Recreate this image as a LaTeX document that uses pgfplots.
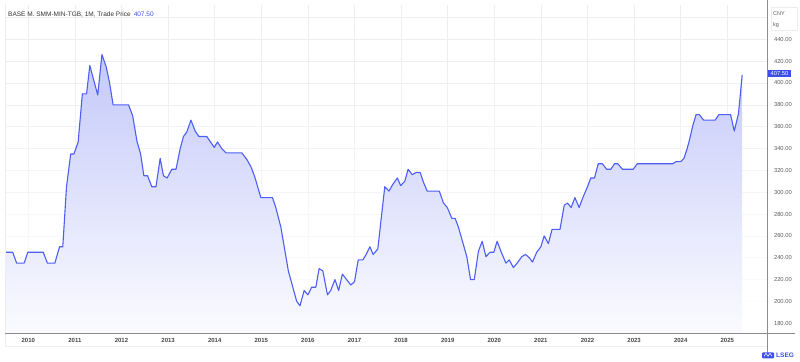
\documentclass[border=0pt]{standalone}
\usepackage{fontspec}
\setmainfont{Liberation Sans}
\usepackage{pgfplots}
\pgfplotsset{compat=1.18}
\usepgfplotslibrary{fillbetween}
\usetikzlibrary{fadings}
\definecolor{lineblue}{RGB}{77,94,245}
\definecolor{boxblue}{RGB}{61,79,240}
\definecolor{gridc}{RGB}{238,238,242}
\definecolor{axc}{RGB}{140,140,140}
\definecolor{tickc}{RGB}{70,70,70}
\definecolor{ylab}{RGB}{90,90,90}
\definecolor{filltop}{RGB}{196,201,250}
\tikzfading[name=myfade, top color=transparent!100, bottom color=transparent!6]
\pgfplotstableread{
t v
2009.50 245
2009.665 245
2009.75 235
2009.91 235
2009.99 245
2010.32 245
2010.41 235
2010.57 235
2010.67 250
2010.74 250
2010.82 305
2010.91 335
2010.98 335
2011.07 346
2011.16 390
2011.25 390
2011.32 416
2011.49 389
2011.58 426
2011.67 415
2011.74 401
2011.82 380
2012.15 380
2012.24 370
2012.33 347
2012.41 335
2012.48 315
2012.56 315
2012.65 305
2012.74 305
2012.83 331
2012.90 315
2012.98 313
2013.08 321
2013.17 321
2013.26 340
2013.33 351
2013.40 355
2013.49 366
2013.58 356
2013.66 351
2013.83 351
2013.99 341
2014.06 346
2014.15 340
2014.24 336
2014.58 336
2014.69 330
2014.78 323
2014.86 314
2014.99 295
2015.24 295
2015.31 286
2015.42 268
2015.58 228
2015.76 200
2015.83 196
2015.92 210
2016.00 206
2016.08 213
2016.17 213
2016.24 230
2016.32 228
2016.42 206
2016.49 210
2016.58 220
2016.66 210
2016.74 225
2016.83 220
2016.92 215
2017.00 218
2017.08 238
2017.18 238
2017.25 243
2017.33 250
2017.40 243
2017.50 248
2017.65 305
2017.74 301
2017.82 307
2017.92 313
2017.99 306
2018.08 310
2018.15 321
2018.24 316
2018.32 318
2018.41 318
2018.48 309
2018.56 301
2018.82 301
2018.91 290
2018.99 286
2019.09 276
2019.16 276
2019.23 268
2019.41 241
2019.49 220
2019.57 220
2019.66 246
2019.74 255
2019.82 241
2019.91 245
2019.99 245
2020.06 255
2020.16 244
2020.25 235
2020.32 238
2020.41 231
2020.49 235
2020.59 241
2020.67 243
2020.75 240
2020.82 236
2020.91 245
2021.00 250
2021.07 260
2021.16 253
2021.24 266
2021.41 266
2021.50 288
2021.57 290
2021.65 286
2021.73 295
2021.82 286
2021.91 296
2022.00 305
2022.07 313
2022.15 313
2022.23 326
2022.32 326
2022.41 321
2022.50 321
2022.58 326
2022.65 326
2022.75 321
2022.98 321
2023.07 326
2023.83 326
2023.90 328
2024.00 328
2024.07 331
2024.14 340
2024.20 350
2024.26 361
2024.33 371
2024.40 371
2024.49 366
2024.74 366
2024.82 371
2025.07 371
2025.15 356
2025.24 372
2025.32 407.5
}\price
\pgfplotstableread{
t v
2009.50 170.8
2025.32 170.8
}\base
\begin{document}
\begin{tikzpicture}
\path (0,0) rectangle (800pt,361pt);
% label band
\draw[gridc, line width=0.6pt] (5pt,28pt) rectangle (767pt,15pt);
\begin{axis}[
  at={(5pt,28pt)}, anchor=south west,
  scale only axis, width=762pt, height=328pt,
  xmin=2009.5, xmax=2025.852, ymin=170.8, ymax=471.1,
  axis x line*=bottom, axis y line*=right,
  axis line style={draw=none},
  tick style={draw=none},
  xtick={2010,2011,...,2025},
  xticklabels={2010,2011,2012,2013,2014,2015,2016,2017,2018,2019,2020,2021,2022,2023,2024,2025},
  ytick={180,200,...,460},
  yticklabels={180.00,200.00,220.00,240.00,260.00,280.00,300.00,320.00,340.00,360.00,380.00,400.00,420.00,440.00,{}},
  grid=major,
  major grid style={draw=gridc, line width=0.6pt},
  xticklabel style={font=\fontsize{6}{7}\selectfont\bfseries, text=tickc, anchor=center, yshift=-7pt},
  yticklabel style={font=\fontsize{5.8}{6.8}\selectfont, text=ylab, anchor=west, xshift=3.5pt},
]
\addplot[draw=none, name path=base, forget plot] table[x=t,y=v]{\base};
\addplot[draw=none, name path=price, forget plot] table[x=t,y=v]{\price};
\addplot[fill=filltop, draw=none, forget plot] fill between[of=price and base];
\fill[white, path fading=myfade] (rel axis cs:0,0) rectangle (axis cs:2025.852,426);
\addplot[lineblue, line width=1.1pt, line join=round] table[x=t,y=v]{\price};
\end{axis}
% axis lines
\draw[axc, line width=0.6pt] (5pt,28pt) -- (795pt,28pt);
\draw[axc, line width=0.6pt] (767pt,361pt) -- (767pt,8pt);
\draw[gridc, line width=0.6pt] (5pt,28pt) -- (5pt,358pt);
% title
\node[anchor=west, inner sep=0pt, font=\fontsize{6.5}{8}\selectfont, text={rgb,255:red,50;green,50;blue,50}] at (8pt,347pt)
  {BASE M. SMM-MIN-TGB, 1M, Trade Price\hspace{3pt}\textcolor{boxblue}{407.50}};
% unit box
\draw[gridc, fill=white, line width=0.6pt] (771pt,331pt) rectangle (797pt,354pt);
\node[anchor=west, inner sep=0pt, font=\fontsize{5.5}{6.5}\selectfont, text=ylab] at (773pt,348pt) {CNY};
\node[anchor=west, inner sep=0pt, font=\fontsize{5.5}{6.5}\selectfont, text=ylab] at (773pt,336pt) {kg};
% price box
\node[anchor=west, fill=boxblue, text=white, inner xsep=3pt, inner ysep=1pt, minimum height=7.5pt, font=\fontsize{5.8}{6.8}\selectfont] at (767.5pt,288pt) {407.50};
% LSEG logo
\fill[boxblue, rounded corners=1pt] (762pt,3pt) rectangle (774pt,9pt);
\draw[white, line width=0.5pt] (764pt,5pt) -- (766pt,8pt) -- (768pt,5pt) -- (770pt,8pt) -- (772pt,5pt);
\node[anchor=west, inner sep=0pt, font=\fontsize{6.5}{7.5}\selectfont\bfseries, text=boxblue] at (776pt,6pt) {LSEG};
\end{tikzpicture}
\end{document}
